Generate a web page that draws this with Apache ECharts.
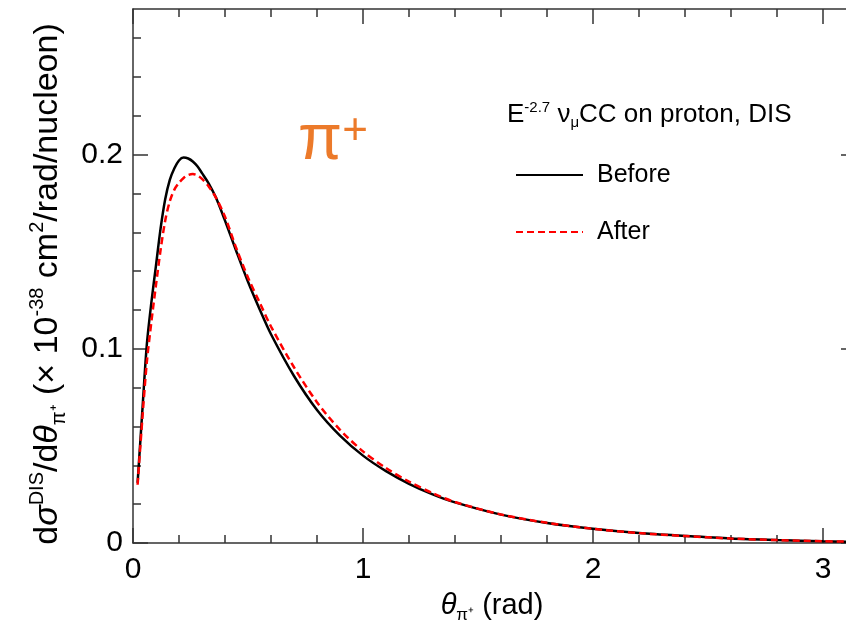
<!DOCTYPE html>
<html>
<head>
<meta charset="utf-8">
<script src="https://cdn.jsdelivr.net/npm/echarts@6/dist/echarts.min.js"></script>
<style>
html,body{margin:0;padding:0;background:#fff;}
#chart{width:846px;height:630px;}
</style>
</head>
<body>
<div id="chart"></div>
<script>
// ---- data ----
const theta = [0.02,0.04,0.06,0.08,0.10,0.12,0.14,0.16,0.18,0.20,0.22,0.24,0.26,0.28,0.30,0.33,0.36,0.40,0.45,0.50,0.55,0.60,0.70,0.80,0.90,1.00,1.10,1.20,1.30,1.40,1.60,1.80,2.00,2.20,2.40,2.60,2.80,3.00,3.10];
const beforeValues = [0.031,0.067,0.102,0.124,0.143,0.162,0.177,0.187,0.193,0.197,0.1985,0.198,0.1965,0.194,0.1905,0.185,0.178,0.166,0.150,0.1345,0.1205,0.1075,0.0860,0.0685,0.0553,0.0450,0.0370,0.0305,0.0252,0.0209,0.0146,0.0103,0.0073,0.0051,0.0036,0.0023,0.0015,0.0009,0.0007];
const afterValues  = [0.030,0.063,0.093,0.114,0.133,0.151,0.166,0.176,0.182,0.1855,0.188,0.1895,0.190,0.1893,0.1875,0.1835,0.178,0.168,0.1515,0.1367,0.1240,0.1115,0.0905,0.0725,0.0583,0.0472,0.0386,0.0316,0.0258,0.0211,0.0147,0.0104,0.0073,0.0051,0.0036,0.0023,0.0015,0.0009,0.0007];
const seriesNames = ['Before','After'];
const xTickValues = [0,1,2,3];
const xTickLabels = ['0','1','2','3'];
const yTickValues = [0,0.1,0.2];
const yTickLabels = ['0','0.1','0.2'];

const FONT = 'Liberation Sans';
const AXIS_COLOR = '#333';
const X_MAX = 3.1, Y_MAX = 0.275;

function pairs(xs, ys){ return xs.map((x,i)=>[x, ys[i]]); }
function steps(step, max){ const out=[]; for(let k=0; k*step <= max+1e-9; k++){ out.push(+(k*step).toFixed(6)); } return out; }
const xMinorValues = steps(0.2, X_MAX);
const yMinorValues = steps(0.02, Y_MAX);

function tick(len, values){ return {show:true, inside:true, length:len, customValues:values, lineStyle:{color:AXIS_COLOR, width:1.5}}; }
function base(extra){
  return Object.assign({
    type:'value', gridIndex:0,
    axisLine:{show:false, onZero:false},
    axisLabel:{show:false},
    splitLine:{show:false}
  }, extra);
}
const lineOn = {show:true, onZero:false, lineStyle:{color:AXIS_COLOR, width:1.5}};

const chart = echarts.init(document.getElementById('chart'), null, {renderer:'canvas'});
const option = {
  animation:false,
  backgroundColor:'#fff',
  grid:{left:133, top:9, right:0, bottom:87, show:false},
  xAxis:[
    base({position:'bottom', min:0, max:X_MAX, interval:1, axisLine:lineOn, axisTick:tick(15, xTickValues),
      axisLabel:{show:true, customValues:xTickValues, formatter:v => xTickLabels[xTickValues.indexOf(Math.round(v))] || '',
                 fontSize:30, color:'#000', fontFamily:FONT, margin:12}}),
    base({position:'bottom', min:0, max:X_MAX, interval:0.2, axisTick:tick(8, xMinorValues)}),
    base({position:'top', min:0, max:X_MAX, interval:1, axisLine:lineOn, axisTick:tick(15, xTickValues)}),
    base({position:'top', min:0, max:X_MAX, interval:0.2, axisTick:tick(8, xMinorValues)})
  ],
  yAxis:[
    base({position:'left', min:0, max:Y_MAX, interval:0.1, axisLine:lineOn, axisTick:tick(15, yTickValues),
      axisLabel:{show:true, customValues:yTickValues, formatter:v => { const i = yTickValues.findIndex(t => Math.abs(t-v) < 1e-6); return i >= 0 ? yTickLabels[i] : ''; },
                 fontSize:30, color:'#000', fontFamily:FONT, margin:10}}),
    base({position:'left', min:0, max:Y_MAX, interval:0.02, axisTick:tick(8, yMinorValues)}),
    base({position:'right', min:0, max:Y_MAX, interval:0.1, axisTick:tick(5, yTickValues)})
  ],
  legend:{
    data:seriesNames, orient:'vertical', left:510, top:155,
    itemWidth:67, itemHeight:14, itemGap:27,
    itemStyle:{opacity:0, color:'rgba(0,0,0,0)', borderWidth:0},
    textStyle:{fontSize:25, lineHeight:30, color:'#000', fontFamily:FONT, padding:[0,0,0,9]}
  },
  graphic:[
    { type:'text', x:507, y:115,
      style:{ text:'{m|E}{sup|-2.7}{m| ν}{sub|μ}{m|CC on proton, DIS}', verticalAlign:'middle', align:'left',
        rich:{ m:{fontSize:26, lineHeight:30, fontFamily:FONT, fill:'#000'},
               sup:{fontSize:15, lineHeight:15, verticalAlign:'top', fontFamily:FONT, fill:'#000'},
               sub:{fontSize:15, lineHeight:15, verticalAlign:'bottom', fontFamily:FONT, fill:'#000'} } } },
    { type:'text', x:298, y:141,
      style:{ text:'{p|π}{s|+}', verticalAlign:'middle', align:'left',
        rich:{ p:{fontSize:64, lineHeight:62, fontFamily:FONT, fill:'#ec7a2a'},
               s:{fontSize:44, lineHeight:44, verticalAlign:'top', fontFamily:FONT, fill:'#ec7a2a'} } } },
    { type:'text', x:492, y:606,
      style:{ text:'{i|θ}{sub|π⁺}{m| (rad)}', verticalAlign:'middle', align:'center',
        rich:{ m:{fontSize:29, lineHeight:36, fontFamily:FONT, fill:'#000'},
               i:{fontSize:29, lineHeight:36, fontFamily:FONT, fontStyle:'italic', fill:'#000'},
               sub:{fontSize:17, lineHeight:17, verticalAlign:'bottom', fontFamily:FONT, fill:'#000'} } } },
    { type:'text', x:48, y:284, rotation:Math.PI/2,
      style:{ text:'{m|d}{i|σ}{sup|DIS}{m|/d}{i|θ}{sub|π⁺}{m| (× 10}{sup|-38}{m| cm}{sup|2}{m|/rad/nucleon)}', verticalAlign:'middle', align:'center',
        rich:{ m:{fontSize:34, lineHeight:42, fontFamily:FONT, fill:'#000'},
               i:{fontSize:34, lineHeight:42, fontFamily:FONT, fontStyle:'italic', fill:'#000'},
               sup:{fontSize:20, lineHeight:20, verticalAlign:'top', fontFamily:FONT, fill:'#000'},
               sub:{fontSize:20, lineHeight:20, verticalAlign:'bottom', fontFamily:FONT, fill:'#000'} } } }
  ],
  series:[
    { name:seriesNames[0], type:'line', xAxisIndex:0, yAxisIndex:0, data:pairs(theta, beforeValues),
      symbol:'none', smooth:0.3, lineStyle:{color:'#000', width:2.5}, itemStyle:{color:'#000'}, z:3 },
    { name:seriesNames[1], type:'line', xAxisIndex:0, yAxisIndex:0, data:pairs(theta, afterValues),
      symbol:'none', smooth:0.3, lineStyle:{color:'#ff0000', width:2.5, type:[7,4]}, itemStyle:{color:'#ff0000'}, z:4 }
  ]
};
chart.setOption(option);
</script>
</body>
</html>
